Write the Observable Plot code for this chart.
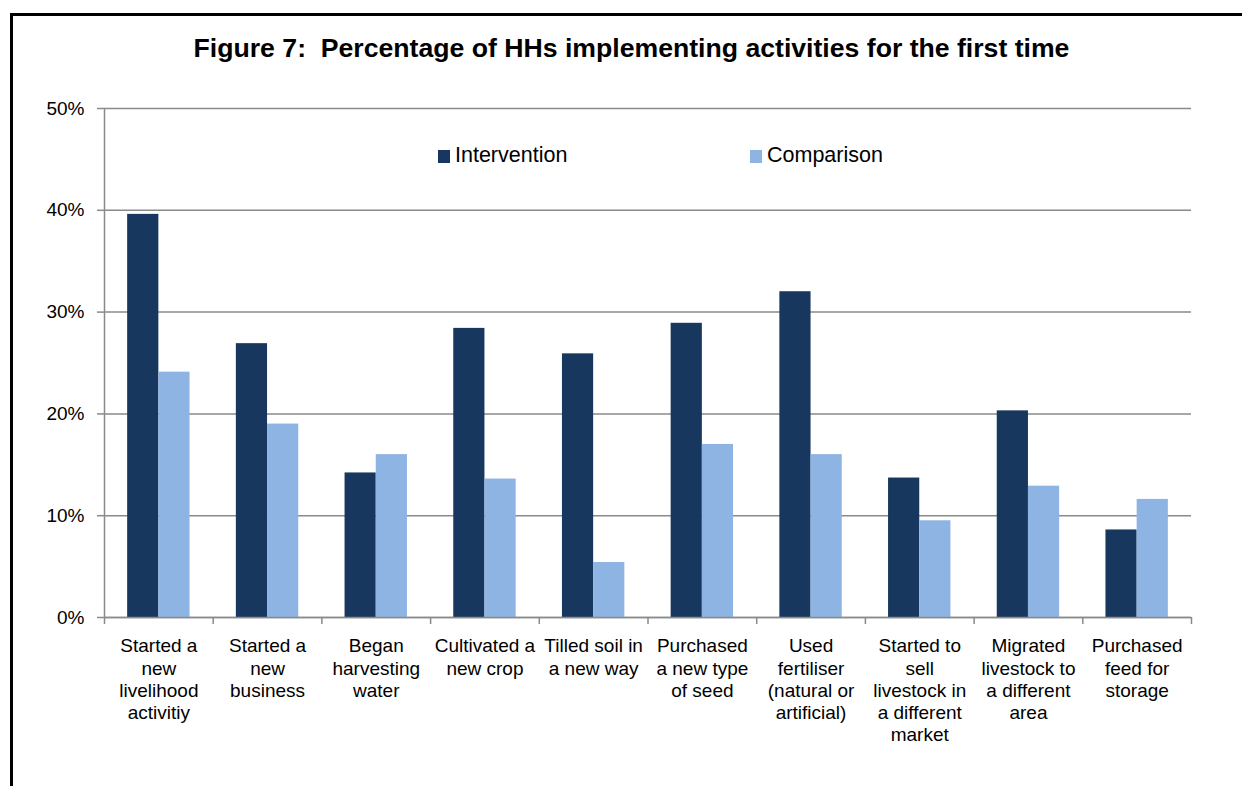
<!DOCTYPE html>
<html>
<head>
<meta charset="utf-8">
<script src="https://cdn.jsdelivr.net/npm/d3@7"></script>
<script src="https://cdn.jsdelivr.net/npm/@observablehq/plot@0.6"></script>
<style>
  html, body { margin: 0; padding: 0; background: #fff; }
  #wrap { position: relative; width: 1242px; height: 786px; overflow: hidden; font-family: "Liberation Sans", Arial, sans-serif; }
  #border { position: absolute; left: 10px; top: 13px; width: 1400px; height: 1000px; border-left: 3px solid #000; border-top: 3px solid #000; pointer-events: none; }
  #title { position: absolute; left: 10px; width: 1243px; top: 34px; text-align: center; font-weight: bold; font-size: 25px; line-height: 28px; color: #000; white-space: pre; transform: scaleX(1.065); transform-origin: 621.5px 0; }
  .leg { position: absolute; top: 143px; display: flex; align-items: center; font-size: 21.5px; line-height: 24px; color: #000; }
  .leg .sw { width: 12px; height: 13px; margin-right: 5px; margin-top: 2px; }
  #chart { position: absolute; left: 0; top: 0; }
</style>
</head>
<body>
<div id="wrap">
  <div id="chart"></div>
  <div id="title"></div>
  <div id="legend"></div>
  <div id="border"></div>
</div>
<script>
// ---- data ----
const categories = [
  "Started a\nnew\nlivelihood\nactivitiy",
  "Started a\nnew\nbusiness",
  "Began\nharvesting\nwater",
  "Cultivated a\nnew crop",
  "Tilled soil in\na new way",
  "Purchased\na new type\nof seed",
  "Used\nfertiliser\n(natural or\nartificial)",
  "Started to\nsell\nlivestock in\na different\nmarket",
  "Migrated\nlivestock to\na different\narea",
  "Purchased\nfeed for\nstorage"
];
const seriesNames = ["Intervention", "Comparison"];
const intervention = [39.6, 26.9, 14.2, 28.4, 25.9, 28.9, 32.0, 13.7, 20.3, 8.6];
const comparison   = [24.1, 19.0, 16.0, 13.6, 5.4, 17.0, 16.0, 9.5, 12.9, 11.6];
const yTicks = [0, 10, 20, 30, 40, 50];
const titleText = "Figure 7:  Percentage of HHs implementing activities for the first time";

// ---- styles ----
const seriesColors = ["#17375E", "#8EB4E3"];
const gridColor = "#8a8a8a";

const W = 1242, H = 786;
const mL = 104, mR = 51, mT = 108, mB = 169;
const bw = (W - mL - mR) / categories.length;
const outer = 0.213 * bw, barW = 0.287 * bw;

const rows = [];
categories.forEach((c, i) => {
  rows.push({category: c, series: seriesNames[0], value: intervention[i]});
  rows.push({category: c, series: seriesNames[1], value: comparison[i]});
});

const chart = Plot.plot({
  width: W, height: H,
  marginLeft: mL, marginRight: mR, marginTop: mT, marginBottom: mB,
  style: {fontFamily: "'Liberation Sans', Arial, sans-serif", background: "none"},
  x: {type: "band", domain: categories, padding: 0, round: false, label: null},
  y: {domain: [0, 50], label: null},
  marks: [
    Plot.gridY(yTicks, {stroke: gridColor, strokeOpacity: 1, strokeWidth: 1.5}),
    Plot.barY(rows.filter(d => d.series === seriesNames[0]), {
      x: "category", y: "value", fill: seriesColors[0],
      insetLeft: outer, insetRight: bw - outer - barW
    }),
    Plot.barY(rows.filter(d => d.series === seriesNames[1]), {
      x: "category", y: "value", fill: seriesColors[1],
      insetLeft: outer + barW, insetRight: bw - outer - 2 * barW
    }),
    Plot.ruleY([0], {stroke: gridColor, strokeWidth: 1.5}),
    Plot.ruleX([categories[0]], {x: d => d, dx: -bw / 2, stroke: gridColor, strokeWidth: 1.5}),
    Plot.axisY({ticks: yTicks, tickFormat: d => d + "%", tickSize: 7, tickPadding: 13,
      fontSize: 19, stroke: gridColor, strokeWidth: 1.5, fill: "#000"}),
    Plot.axisX({ticks: categories, tickSize: 7, tickFormat: () => "", dx: -bw / 2,
      stroke: gridColor, strokeWidth: 1.5}),
    Plot.axisX({ticks: [categories[categories.length - 1]], tickSize: 7, tickFormat: () => "", dx: bw / 2,
      stroke: gridColor, strokeWidth: 1.5}),
    Plot.axisX({ticks: categories, tickSize: 0, tickPadding: 19, fontSize: 19, lineHeight: 1.17,
      fill: "#000"})
  ]
});
document.getElementById("chart").appendChild(chart);
document.getElementById("title").textContent = titleText;

// legend
const legend = document.getElementById("legend");
const legendLeft = [438, 750];
seriesNames.forEach((name, i) => {
  const item = document.createElement("div");
  item.className = "leg";
  item.style.left = legendLeft[i] + "px";
  const sw = document.createElement("span");
  sw.className = "sw";
  sw.style.background = seriesColors[i];
  const t = document.createElement("span");
  t.textContent = name;
  item.appendChild(sw);
  item.appendChild(t);
  legend.appendChild(item);
});
</script>
</body>
</html>
